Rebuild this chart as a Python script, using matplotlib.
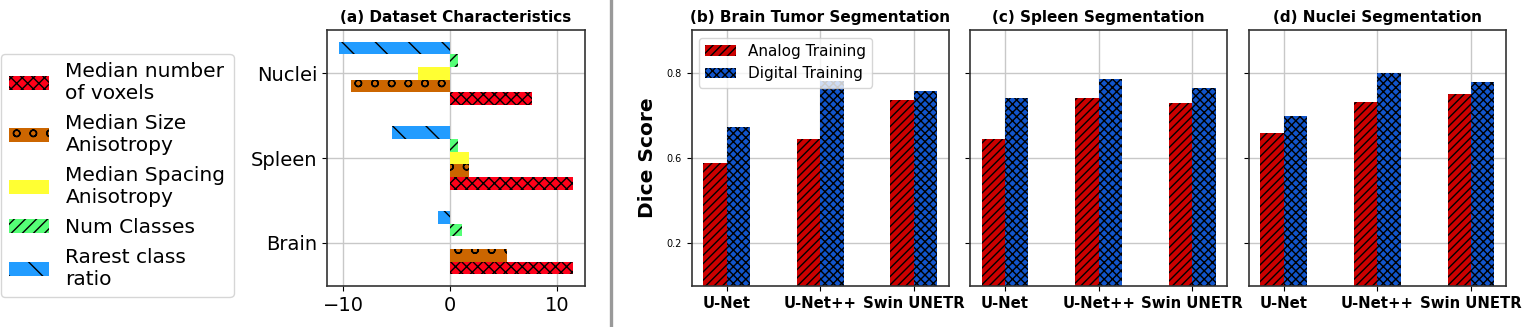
import matplotlib
matplotlib.use("Agg")
import matplotlib.pyplot as plt
import numpy as np
from matplotlib.lines import Line2D

# ---------------- data ----------------
datasets = ["Brain", "Spleen", "Nuclei"]
char_labels = ["Median number\nof voxels", "Median Size\nAnisotropy",
               "Median Spacing\nAnisotropy", "Num Classes", "Rarest class\nratio"]
median_voxels = [11.5, 11.5, 7.7]
size_aniso = [5.35, 1.77, -9.24]
spacing_aniso = [0.0, 1.77, -3.02]
num_classes = [1.12, 0.72, 0.72]
rarest_ratio = [-1.12, -5.44, -10.38]

models = ["U-Net", "U-Net++", "Swin UNETR"]
brain_analog = [0.588, 0.644, 0.736]
brain_digital = [0.673, 0.780, 0.758]
spleen_analog = [0.644, 0.741, 0.729]
spleen_digital = [0.741, 0.786, 0.764]
nuclei_analog = [0.658, 0.731, 0.750]
nuclei_digital = [0.698, 0.800, 0.778]
ytick_vals = [0.4, 0.6, 0.8]
ytick_text = ["0.2", "0.6", "0.8"]

# ---------------- figure ----------------
W, H = 1523, 327
fig = plt.figure(figsize=(W / 100, H / 100), dpi=100)

def frac_axes(x0, x1, y_top, y_bot):
    return fig.add_axes([x0 / W, 1 - y_bot / H, (x1 - x0) / W, (y_bot - y_top) / H])

spine_col = "#333333"
grid_col = "#c8c8c8"

def style_axes(ax):
    for s in ax.spines.values():
        s.set_color(spine_col)
        s.set_linewidth(1.2)
    ax.grid(True, color=grid_col, linewidth=1.0)
    ax.set_axisbelow(True)

# ---- panel (a) ----
axa = frac_axes(327.3, 584.7, 30, 286)
style_axes(axa)
ypos = np.arange(len(datasets))
hb = 0.15
series = [median_voxels, size_aniso, spacing_aniso, num_classes, rarest_ratio]
colors_a = ["#ff0019", "#cc6600", "#ffff33", "#55ff77", "#229cff"]
hatches_a = ["xxx", "o", "", "///", "\\"]
offsets = [-0.3, -0.15, 0.0, 0.15, 0.3]
handles = []
for vals, c, h, off, lab in zip(series, colors_a, hatches_a, offsets, char_labels):
    bc = axa.barh(ypos + off, vals, height=hb, facecolor=c, edgecolor="black",
                  linewidth=0, hatch=h, label=lab)
    handles.append(bc)
axa.set_yticks(ypos)
axa.set_yticklabels(datasets, fontsize=14)
axa.tick_params(axis="x", labelsize=14)
axa.set_xticks([-10, 0, 10])
axa.set_title("(a) Dataset Characteristics", fontsize=11, fontweight="bold")

fig.legend(handles=handles, labels=char_labels, loc="center left",
           bbox_to_anchor=(1.0 / W, 1 - 175.5 / H), borderaxespad=0,
           fontsize=14.5, labelspacing=0.55, handlelength=2.0, handletextpad=0.8,
           frameon=True)

# ---- panels (b)-(d) ----
panels = [
    ("(b) Brain Tumor Segmentation", brain_analog, brain_digital, 691.5),
    ("(c) Spleen Segmentation", spleen_analog, spleen_digital, 970.0),
    ("(d) Nuclei Segmentation", nuclei_analog, nuclei_digital, 1248.7),
]
xpos = np.arange(len(models))
bw = 0.25
for i, (title, an, dg, x0) in enumerate(panels):
    ax = frac_axes(x0, x0 + 257.3, 30, 286)
    style_axes(ax)
    ax.bar(xpos - bw / 2, an, width=bw, facecolor="#cc0000", edgecolor="black",
           linewidth=0, hatch="////", label="Analog Training")
    ax.bar(xpos + bw / 2, dg, width=bw, facecolor="#1155cc", edgecolor="black",
           linewidth=0, hatch="xxxx", label="Digital Training")
    ax.set_ylim(0.3, 0.9)
    ax.set_yticks(ytick_vals)
    if i == 0:
        ax.set_yticklabels(ytick_text, fontsize=7)
        ax.set_ylabel("Dice Score", fontsize=14.5, fontweight="bold", labelpad=7)
        ax.legend(loc="upper left", fontsize=11)
    else:
        ax.set_yticklabels([])
    ax.set_xticks(xpos)
    ax.set_xticklabels(models, fontsize=10.7, fontweight="bold")
    ax.set_title(title, fontsize=11, fontweight="bold")

# divider line between the two halves
fig.add_artist(Line2D([610.7 / W, 610.7 / W], [0.005, 1.0], transform=fig.transFigure,
                      color="#999999", linewidth=2.4))

fig.savefig("out.png", dpi=100)
